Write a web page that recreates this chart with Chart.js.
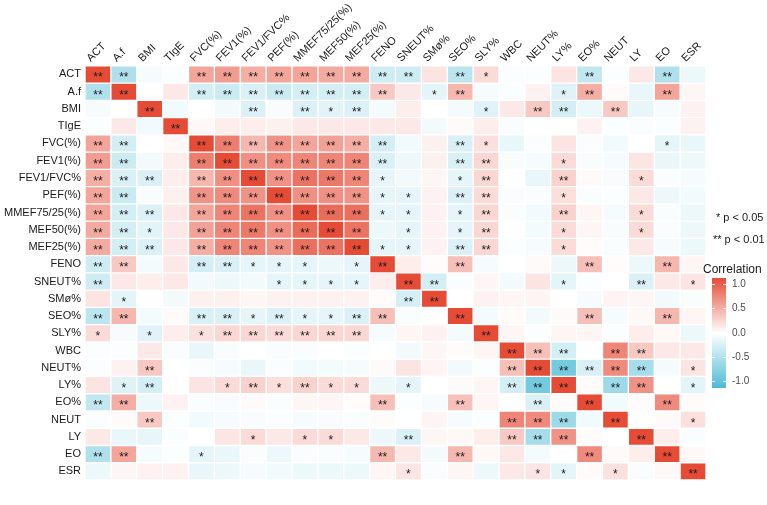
<!DOCTYPE html>
<html>
<head>
<meta charset="utf-8">
<script src="https://cdn.jsdelivr.net/npm/chart.js@4.4.1/dist/chart.umd.min.js"></script>
<style>
  html, body { margin: 0; padding: 0; background: #fff; }
  #wrap { width: 767px; height: 505px; }
</style>
</head>
<body>
<div id="wrap"><canvas id="corrChart" width="767" height="505"></canvas></div>
<script>
// variables (row and column order)
const vars = ['ACT', 'A.f', 'BMI', 'TIgE', 'FVC(%)', 'FEV1(%)', 'FEV1/FVC%', 'PEF(%)',
  'MMEF75/25(%)', 'MEF50(%)', 'MEF25(%)', 'FENO', 'SNEUT%', 'SMø%', 'SEO%', 'SLY%',
  'WBC', 'NEUT%', 'LY%', 'EO%', 'NEUT', 'LY', 'EO', 'ESR'];

// upper triangle of the correlation matrix: row i holds columns i+1 .. 23
const corrUpper = [
  [-0.45, -0.05, -0.02, 0.50, 0.55, 0.45, 0.50, 0.50, 0.47, 0.47, -0.28, -0.28, 0.15, -0.38, 0.20, -0.02, -0.02, 0.15, -0.35, -0.02, 0.12, -0.45, -0.10],
  [0.00, 0.12, -0.25, -0.30, -0.22, -0.30, -0.25, -0.25, -0.25, 0.30, 0.12, -0.15, 0.40, -0.05, -0.02, 0.07, -0.18, 0.45, 0.03, -0.12, 0.50, 0.05],
  [-0.08, 0.00, -0.07, -0.20, -0.04, -0.20, -0.16, -0.20, -0.06, 0.10, 0.00, -0.06, -0.17, 0.12, 0.30, -0.25, -0.10, 0.30, -0.13, -0.05, 0.07],
  [0.04, 0.10, 0.10, 0.08, 0.12, 0.12, 0.12, 0.12, 0.12, -0.07, 0.03, 0.10, -0.03, 0.00, 0.00, 0.07, -0.02, -0.03, -0.02, 0.07],
  [0.72, 0.40, 0.60, 0.50, 0.52, 0.45, -0.25, -0.08, 0.08, -0.22, 0.17, -0.12, -0.03, 0.15, -0.03, -0.08, 0.00, -0.14, -0.12],
  [0.62, 0.65, 0.68, 0.68, 0.68, -0.22, -0.10, 0.08, -0.22, 0.22, -0.04, -0.05, 0.20, -0.04, -0.05, 0.14, -0.12, -0.10],
  [0.60, 0.78, 0.75, 0.68, -0.14, -0.07, 0.05, -0.14, 0.22, 0.00, -0.12, 0.25, 0.03, -0.04, 0.20, -0.03, -0.05],
  [0.62, 0.62, 0.60, -0.14, -0.14, 0.07, -0.20, 0.20, -0.03, -0.03, 0.18, -0.03, -0.02, 0.12, -0.10, -0.08],
  [0.82, 0.80, -0.14, -0.14, 0.07, -0.14, 0.22, -0.03, -0.08, 0.25, 0.05, -0.05, 0.20, -0.03, -0.10],
  [0.78, -0.10, -0.14, 0.07, -0.14, 0.22, 0.00, -0.06, 0.20, 0.05, -0.04, 0.20, -0.03, -0.10],
  [-0.14, -0.14, 0.07, -0.20, 0.22, -0.02, -0.05, 0.20, 0.02, -0.03, 0.12, -0.05, -0.10],
  [0.10, 0.02, 0.35, -0.05, 0.00, 0.03, -0.10, 0.35, 0.02, -0.10, 0.40, 0.05],
  [-0.25, -0.03, 0.05, -0.07, 0.15, -0.15, -0.02, 0.00, -0.20, 0.12, 0.15],
  [0.00, 0.07, 0.05, 0.06, 0.00, -0.05, 0.06, 0.05, -0.07, -0.03],
  [-0.06, 0.02, -0.07, 0.03, 0.35, -0.05, 0.04, 0.40, 0.05],
  [0.05, -0.02, 0.05, 0.05, -0.02, 0.10, 0.04, -0.10],
  [0.35, -0.25, 0.00, 0.68, 0.30, 0.12, 0.12],
  [-0.78, -0.22, 0.65, -0.50, -0.06, 0.15],
  [0.02, -0.55, 0.60, 0.00, -0.15],
  [-0.08, 0.02, 0.65, 0.02],
  [0.00, 0.03, 0.17],
  [0.10, -0.03],
  [0.04]
];

// significance, same layout: 0 none, 1 = p < 0.05, 2 = p < 0.01
const sigUpper = [
  [2, 0, 0, 2, 2, 2, 2, 2, 2, 2, 2, 2, 0, 2, 1, 0, 0, 0, 2, 0, 0, 2, 0],
  [0, 0, 2, 2, 2, 2, 2, 2, 2, 2, 0, 1, 2, 0, 0, 0, 1, 2, 0, 0, 2, 0],
  [0, 0, 0, 2, 0, 2, 1, 2, 0, 0, 0, 0, 1, 0, 2, 2, 0, 2, 0, 0, 0],
  [0, 0, 0, 0, 0, 0, 0, 0, 0, 0, 0, 0, 0, 0, 0, 0, 0, 0, 0, 0],
  [2, 2, 2, 2, 2, 2, 2, 0, 0, 2, 1, 0, 0, 0, 0, 0, 0, 1, 0],
  [2, 2, 2, 2, 2, 2, 0, 0, 2, 2, 0, 0, 1, 0, 0, 0, 0, 0],
  [2, 2, 2, 2, 1, 0, 0, 1, 2, 0, 0, 2, 0, 0, 1, 0, 0],
  [2, 2, 2, 1, 1, 0, 2, 2, 0, 0, 1, 0, 0, 0, 0, 0],
  [2, 2, 1, 1, 0, 1, 2, 0, 0, 2, 0, 0, 1, 0, 0],
  [2, 0, 1, 0, 1, 2, 0, 0, 1, 0, 0, 1, 0, 0],
  [1, 1, 0, 2, 2, 0, 0, 1, 0, 0, 0, 0, 0],
  [0, 0, 2, 0, 0, 0, 0, 2, 0, 0, 2, 0],
  [2, 0, 0, 0, 0, 1, 0, 0, 2, 0, 1],
  [0, 0, 0, 0, 0, 0, 0, 0, 0, 0],
  [0, 0, 0, 0, 2, 0, 0, 2, 0],
  [0, 0, 0, 0, 0, 0, 0, 0],
  [2, 2, 0, 2, 2, 0, 0],
  [2, 2, 2, 2, 0, 1],
  [0, 2, 2, 0, 1],
  [0, 0, 2, 0],
  [0, 0, 1],
  [0, 0],
  [0]
];

const legendTicks = [1.0, 0.5, 0.0, -0.5, -1.0];
const sigNotes = ['* p < 0.05', '** p < 0.01'];

// build the full symmetric matrices (diagonal = 1, **)
const n = vars.length;
const corr = vars.map(() => Array(n).fill(1));
const sig = vars.map(() => Array(n).fill(2));
corrUpper.forEach((row, i) => row.forEach((v, k) => {
  const j = i + 1 + k;
  corr[i][j] = corr[j][i] = v;
  sig[i][j] = sig[j][i] = sigUpper[i][k];
}));

const HIGH = [230, 75, 53];
const LOW = [77, 187, 213];
function cellColor(r) {
  const c = r >= 0 ? HIGH : LOW;
  const t = Math.min(1, Math.abs(r));
  const mix = c.map(ch => Math.round(255 + (ch - 255) * t));
  return `rgb(${mix[0]},${mix[1]},${mix[2]})`;
}

// one floating-bar dataset per row, spanning [i, i+1] on the y scale
const datasets = vars.map((name, i) => ({
  label: name,
  data: vars.map(() => [i, i + 1]),
  backgroundColor: corr[i].map(cellColor),
  borderColor: '#ffffff',
  borderWidth: 1,
  borderSkipped: false,
  grouped: false,
  barPercentage: 1,
  categoryPercentage: 1
}));

const FONT = 'Liberation Sans, Arial, sans-serif';

// significance stars on each cell
const starPlugin = {
  id: 'stars',
  afterDatasetsDraw(chart) {
    const { ctx, scales: { x, y } } = chart;
    ctx.save();
    ctx.fillStyle = '#1a1a1a';
    ctx.font = '12px ' + FONT;
    ctx.textAlign = 'center';
    ctx.textBaseline = 'alphabetic';
    for (let i = 0; i < n; i++) {
      for (let j = 0; j < n; j++) {
        const mark = ['', '*', '**'][sig[i][j]];
        if (!mark) continue;
        ctx.fillText(mark, x.getPixelForValue(j), y.getPixelForValue(i + 0.5) + 7);
      }
    }
    ctx.restore();
  }
};

// legend on the right: p-value notes and colour bar
const legendPlugin = {
  id: 'corrLegend',
  afterDraw(chart) {
    const { ctx } = chart;
    ctx.save();
    ctx.fillStyle = '#1a1a1a';
    ctx.font = '11px ' + FONT;
    ctx.textAlign = 'left';
    ctx.textBaseline = 'middle';
    ctx.fillText(sigNotes[0], 716, 218);
    ctx.fillText(sigNotes[1], 713, 240);

    ctx.font = '12px ' + FONT;
    ctx.fillText('Correlation', 703, 270);

    const barX = 712, barW = 14, barTop = 278, barBot = 388;
    const mid = 332.5, unit = 48.5;
    const grad = ctx.createLinearGradient(0, barTop, 0, barBot);
    grad.addColorStop(0, 'rgb(230,75,53)');
    grad.addColorStop(0.5, '#ffffff');
    grad.addColorStop(1, 'rgb(77,187,213)');
    ctx.fillStyle = grad;
    ctx.fillRect(barX, barTop, barW, barBot - barTop);

    ctx.strokeStyle = 'rgba(255,255,255,0.9)';
    ctx.lineWidth = 1;
    ctx.font = '10px ' + FONT;
    ctx.fillStyle = '#4d4d4d';
    legendTicks.forEach(v => {
      const ty = Math.round(mid - v * unit) + 0.5;
      ctx.beginPath();
      ctx.moveTo(barX, ty); ctx.lineTo(barX + 3, ty);
      ctx.moveTo(barX + barW - 3, ty); ctx.lineTo(barX + barW, ty);
      ctx.stroke();
      ctx.fillText(v.toFixed(1), 732, ty);
    });
    ctx.restore();
  }
};

new Chart(document.getElementById('corrChart'), {
  type: 'bar',
  data: { labels: vars, datasets: datasets },
  options: {
    responsive: false,
    animation: false,
    devicePixelRatio: 1,
    layout: { padding: { top: 0, right: 61, bottom: 25, left: 0 } },
    plugins: { legend: { display: false }, tooltip: { enabled: false } },
    scales: {
      x: {
        position: 'top',
        grid: { display: false, drawTicks: false },
        border: { display: false },
        ticks: {
          autoSkip: false, minRotation: 45, maxRotation: 45, padding: 1,
          color: '#1a1a1a', font: { family: FONT, size: 11 }
        }
      },
      y: {
        type: 'linear',
        min: 0, max: 24, reverse: true,
        grid: { display: false, drawTicks: false },
        border: { display: false },
        afterBuildTicks: axis => { axis.ticks = vars.map((v, i) => ({ value: i + 0.5 })); },
        ticks: {
          autoSkip: false, padding: 4,
          callback: (v, i) => vars[i],
          color: '#1a1a1a', font: { family: FONT, size: 11 }
        }
      }
    }
  },
  plugins: [starPlugin, legendPlugin]
});
</script>
</body>
</html>
